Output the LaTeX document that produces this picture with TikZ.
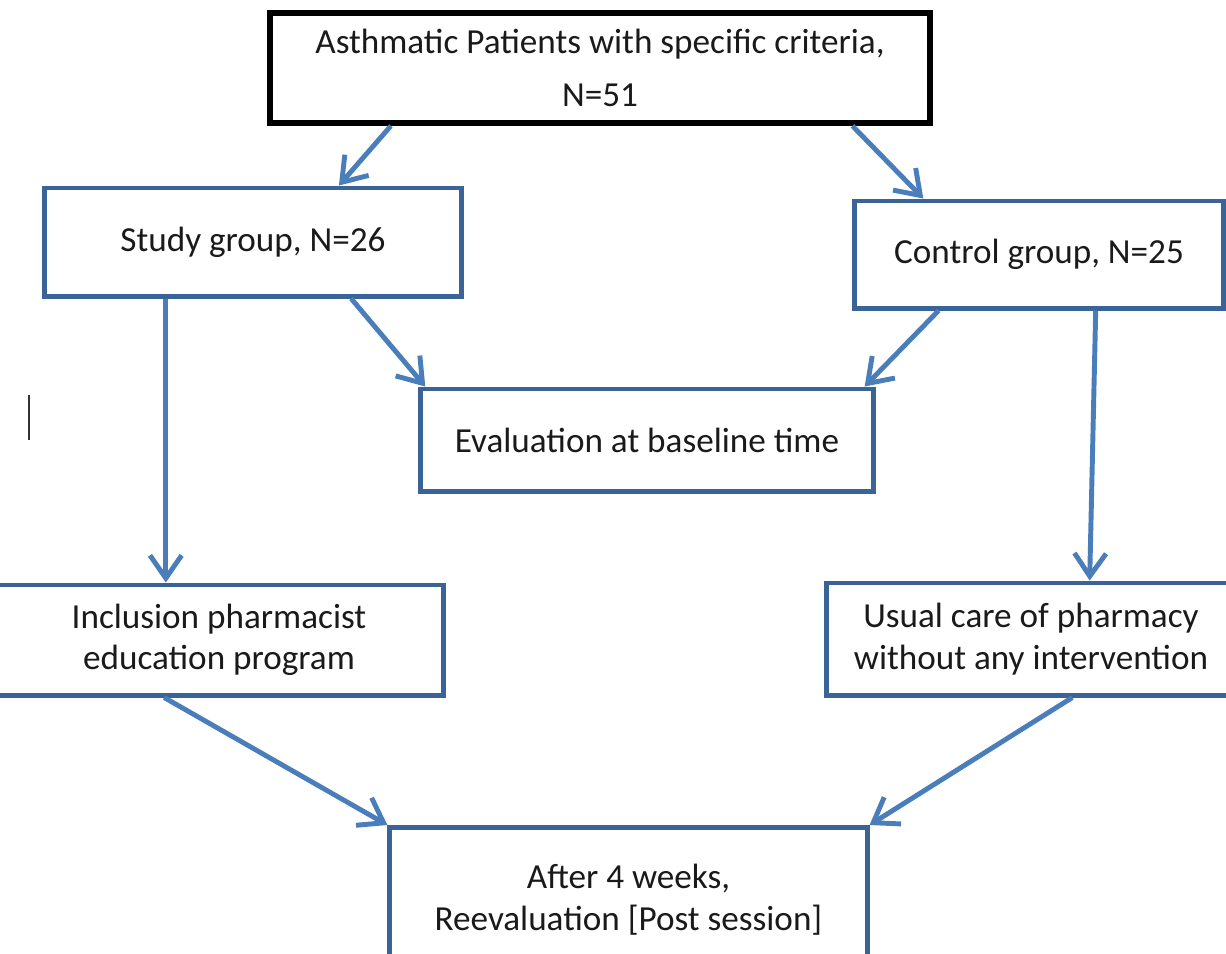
\documentclass[tikz,border=0pt]{standalone}
\usepackage{fontspec}
\setmainfont{Carlito}
\usetikzlibrary{arrows.meta,calc}
\definecolor{flowInk}{HTML}{1A1A1A}
\definecolor{flowBlue}{HTML}{4A7EBB}
\definecolor{flowBlueDark}{HTML}{3A6397}
\definecolor{flowCursor}{HTML}{333333}

\begin{document}
\begin{tikzpicture}[
  x=0.01cm, y=-0.01cm,
  font=\fontsize{10.0}{11.8}\selectfont,
  box/.style={draw=flowBlueDark,line width=1.4pt,fill=white,align=center,text=flowInk,inner sep=0pt},
  headbox/.style={box,draw=black,line width=1.6pt},
  arr/.style={-{Straight Barb[length=6.5pt,width=9pt]},line width=1.4pt,flowBlue}
]
  \useasboundingbox (0,0) rectangle (1226,953);
  \clip (0,0) rectangle (1226,953);

  % boxes
  \node[headbox,minimum width=6.60cm,minimum height=1.10cm] (head) at (600,68)
    {Asthmatic Patients with specific criteria,\\[3.2pt]N=51};
  \node[box,minimum width=4.16cm,minimum height=1.08cm] (study) at (253,242) {Study group, N=26};
  \node[box,minimum width=3.68cm,minimum height=1.07cm] (control) at (1039,254.5) {Control group, N=25};
  \node[box,minimum width=4.52cm,minimum height=1.02cm] (eval) at (647,440) {Evaluation at baseline time};
  \node[box,minimum width=4.48cm,minimum height=1.10cm] (incl) at (219,640)
    {Inclusion pharmacist\\education program};
  \node[box,minimum width=4.08cm,minimum height=1.12cm] (usual) at (1031,639)
    {Usual care of pharmacy\\without any intervention};
  \node[box,minimum width=4.77cm,anchor=north,inner ysep=0.37cm,text depth=1.2cm] (final) at (628.5,825)
    {After 4 weeks,\\Reevaluation [Post session]};

  % connectors
  \draw[arr] ($(head.south west)!0.186!(head.south east)$) -- ($(study.north west)!0.704!(study.north east)$);
  \draw[arr] ($(head.south west)!0.879!(head.south east)$) -- ($(control.north west)!0.19!(control.north east)$);
  \draw[arr] ($(study.south west)!0.293!(study.south east)$) coordinate (s1) -- (s1 |- incl.north);
  \draw[arr] ($(study.south west)!0.733!(study.south east)$) -- ($(eval.north west)!0.015!(eval.north east)$);
  \draw[arr] ($(control.south west)!0.231!(control.south east)$) -- ($(eval.north west)!0.976!(eval.north east)$);
  \draw[arr] ($(control.south west)!0.652!(control.south east)$) -- ($(usual.north west)!0.642!(usual.north east)$);
  \draw[arr] ($(incl.south west)!0.379!(incl.south east)$) -- (final.north west);
  \draw[arr] ($(usual.south west)!0.6!(usual.south east)$) -- (final.north east);

  % stray cursor mark
  \draw[flowCursor,line width=0.6pt] (29,395) -- (29,440);
\end{tikzpicture}
\end{document}
